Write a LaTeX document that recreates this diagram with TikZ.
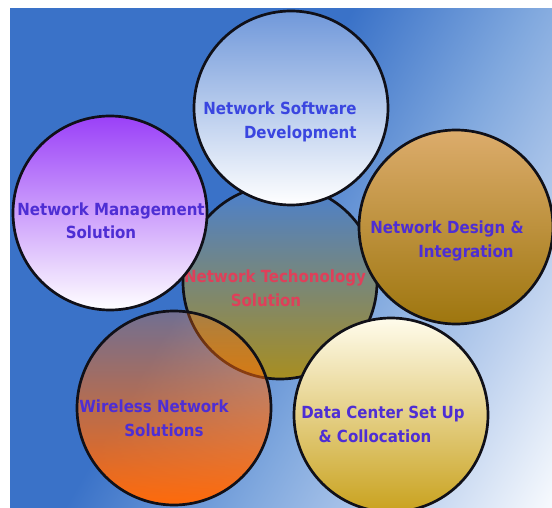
\documentclass[tikz,border=0pt]{standalone}
\usepackage{fontspec}
\setmainfont{DejaVu Sans}
\newfontfamily\lblfont{DejaVu Sans Condensed}
\usetikzlibrary{fadings}
\definecolor{bgblue}{RGB}{58,114,200}
\definecolor{bgmid}{RGB}{128,168,222}
\definecolor{bglight}{RGB}{188,208,238}
\definecolor{bgwhite}{RGB}{246,249,253}
\definecolor{ringblack}{RGB}{16,16,24}
\definecolor{swtop}{RGB}{112,152,218}
\definecolor{mgmttop}{RGB}{154,64,248}
\definecolor{designtop}{RGB}{220,172,108}
\definecolor{designbot}{RGB}{158,118,14}
\definecolor{centop}{RGB}{74,128,208}
\definecolor{cenbot}{RGB}{168,142,32}
\definecolor{wlorange}{RGB}{255,106,10}
\definecolor{datatop}{RGB}{255,252,236}
\definecolor{databot}{RGB}{201,162,30}
\definecolor{lblblue}{RGB}{58,70,224}
\definecolor{lblviolet}{RGB}{78,46,212}
\definecolor{lblred}{RGB}{222,64,90}
\pgfdeclareverticalshading{bgshade}{100bp}{color(0bp)=(bgwhite); color(16bp)=(bgwhite); color(28bp)=(bglight); color(41bp)=(bgmid); color(56bp)=(bgblue); color(100bp)=(bgblue)}
\tikzfading[name=wirelessfade, top color=transparent!72, bottom color=transparent!0]

\begin{document}
\begin{tikzpicture}[x=1pt, y=-1pt,
  bubble/.style={circle, draw=ringblack, line width=2.7pt, minimum size=194pt, inner sep=0pt},
  lbl/.style={align=center, inner sep=0pt, text height=12pt, text depth=4pt,
    font=\lblfont\bfseries\fontsize{16.7}{24}\selectfont, text=lblviolet}
]
\useasboundingbox (0,0) rectangle (552,508);
\shade[shading=bgshade, shading angle=60] (10,9) rectangle (552,508);

% middle circle sits behind the others
\node[bubble, top color=centop, bottom color=cenbot] (cen) at (280,282) {};
\node[lbl, text=lblred] (centext) at (275,302) {Network Techonology\\Solution\hspace*{18pt}};

\node[bubble, draw=none, fill=wlorange, path fading=wirelessfade] (wl) at (174,408) {};
\node[bubble, top color=swtop, bottom color=white] (sw) at (291,108) {};
\node[bubble, top color=mgmttop, bottom color=white] (mgmt) at (110,213) {};
\node[bubble, top color=designtop, bottom color=designbot] (design) at (456,227) {};
\node[bubble, top color=datatop, bottom color=databot] (data) at (391,415) {};
\node[bubble] (wlring) at (wl) {};

\node[lbl, text=lblblue, align=right] (swtext) at (280,135) {Network Software\\Development};
\node[lbl] (mgmttext) at (111,235) {Network Management\\Solution\hspace*{20pt}};
\node[lbl] (designtext) at (447,253) {Network Design \&\\\hspace*{38pt}Integration};
\node[lbl] (wltext) at (154,432) {Wireless Network\\\hspace*{20pt}Solutions};
\node[lbl] (datatext) at (383,438) {Data Center Set Up\\\& Collocation\hspace*{16pt}};
\end{tikzpicture}
\end{document}
